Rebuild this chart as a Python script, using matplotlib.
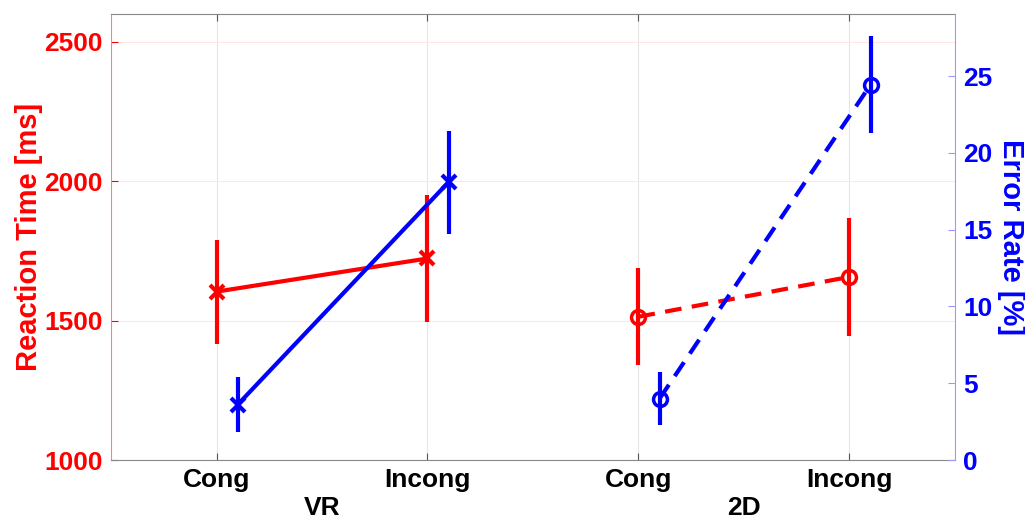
import numpy as np
import matplotlib.pyplot as plt

plt.rcParams['font.family'] = ['Liberation Sans', 'DejaVu Sans']
plt.rcParams['font.weight'] = 'bold'

conditions = ['Cong', 'Incong', 'Cong', 'Incong']
groups = ['VR', '2D']

# reaction time [ms]
rt_vr = [1604, 1723]
rt_vr_err = [187, 229]
rt_2d = [1514, 1657]
rt_2d_err = [173, 212]

# error rate [%]
er_vr = [3.6, 18.1]
er_vr_err = [1.8, 3.35]
er_2d = [4.0, 24.45]
er_2d_err = [1.75, 3.15]

x_vr = np.array([1, 2])
x_2d = np.array([3, 4])
shift = 0.1

red = '#ff0000'
blue = '#0000ff'

fig = plt.figure(figsize=(10.25, 5.19), dpi=100)
ax = fig.add_axes([111/1025, 1 - 460/519, (955-111)/1025, (460-14)/519])
ax2 = ax.twinx()

ax.errorbar(x_vr, rt_vr, yerr=rt_vr_err, color=red, lw=3, marker='x', ms=10, mew=3, capsize=0)
ax.errorbar(x_2d, rt_2d, yerr=rt_2d_err, color=red, lw=3, ls='--', dashes=(4, 2.5),
            marker='o', ms=10, mew=2.5, mfc='none', capsize=0)
ax2.errorbar(x_vr + shift, er_vr, yerr=er_vr_err, color=blue, lw=3, marker='x', ms=10, mew=3, capsize=0)
ax2.errorbar(x_2d + shift, er_2d, yerr=er_2d_err, color=blue, lw=3, ls='--', dashes=(4, 2.5),
             marker='o', ms=10, mew=2.5, mfc='none', capsize=0)

ax.set_xlim(0.5, 4.5)
ax.set_ylim(1000, 2600)
ax2.set_ylim(0, 29.05)

ax.set_xticks([1, 2, 3, 4])
ax.set_xticklabels(conditions, fontsize=19, fontweight='bold')
ax.set_yticks([1000, 1500, 2000, 2500])
ax.tick_params(axis='y', colors=red, labelsize=19, direction='in', length=5, pad=6)
ax.tick_params(axis='x', colors='#555555', labelcolor='black', direction='in', length=5,
               top=True, pad=6)
ax2.set_yticks([0, 5, 10, 15, 20, 25])
ax2.tick_params(axis='y', colors='#9999ff', labelcolor=blue, labelsize=19, direction='in', length=5, pad=6)
for lab in ax.get_yticklabels() + ax2.get_yticklabels():
    lab.set_fontweight('bold')

ax.grid(axis='x', color='#e6e6e6', lw=0.8)
ax.grid(axis='y', color='#ffe6e6', lw=0.8)
ax.set_axisbelow(True)

ax.set_ylabel('Reaction Time [ms]', color=red, fontsize=21, fontweight='bold', labelpad=1)
ax2.set_ylabel('Error Rate [%]', color=blue, fontsize=21, fontweight='bold', rotation=270, labelpad=23)

for s in ['top', 'bottom']:
    ax.spines[s].set_color('#888888')
ax.spines['left'].set_color('#ff8080')
ax2.spines['left'].set_visible(False)
ax2.spines['top'].set_visible(False)
ax2.spines['bottom'].set_visible(False)
ax2.spines['right'].set_color('#9999ff')
ax.spines['right'].set_visible(False)

for gx, g in zip([1.5, 3.5], groups):
    ax.text(gx, -0.08, g, transform=ax.get_xaxis_transform(), ha='center', va='top',
            fontsize=19, fontweight='bold')

fig.savefig('out.png', dpi=100)
